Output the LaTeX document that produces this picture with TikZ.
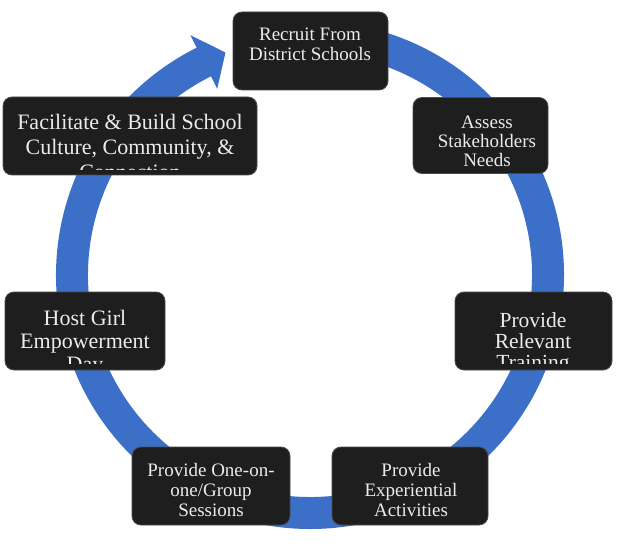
\documentclass[tikz,border=0pt]{standalone}
\usepackage{fontspec}
\setmainfont{Liberation Serif}
\usetikzlibrary{calc}
\definecolor{ringblue}{RGB}{60,112,200}
\definecolor{boxfill}{RGB}{30,30,30}
\definecolor{boxline}{RGB}{75,75,75}
\definecolor{txtcol}{RGB}{235,235,235}
\begin{document}
\begin{tikzpicture}[x=1pt,y=1pt,
  stepbox/.style={draw=boxline, line width=0.8pt, fill=boxfill, rounded corners=9pt, inner sep=0pt},
  steptext/.style={text=txtcol, align=center, inner sep=0pt},
  ringfill/.style={fill=ringblue}]
\useasboundingbox (0,0) rectangle (621,550);
\coordinate (c) at (310,275);
% ring with arrow head
\fill[ringfill] ($(c)+(85:254)$) arc[start angle=85, end angle=-243.5, radius=254pt]
  -- ($(c)+(-243.5:268)$) -- ($(c)+(-249.2:238)$) -- ($(c)+(-243.5:208)$)
  -- ($(c)+(-243.5:222)$) arc[start angle=-243.5, end angle=85, radius=222pt] -- cycle;
% boxes
\node[stepbox, minimum width=155pt, minimum height=78pt] (recruit) at (310.5,499) {};
\node[stepbox, minimum width=254pt, minimum height=78pt] (facil) at (130,414) {};
\node[stepbox, minimum width=135pt, minimum height=76pt] (assess) at (480.5,414.5) {};
\node[stepbox, minimum width=157pt, minimum height=78pt] (relev) at (533.5,219) {};
\node[stepbox, minimum width=160pt, minimum height=78pt] (host) at (85,219) {};
\node[stepbox, minimum width=158pt, minimum height=78pt] (oneon) at (211,64) {};
\node[stepbox, minimum width=156pt, minimum height=78pt] (exper) at (410,64) {};
% texts (clipped inside boxes)
\begin{scope}
\clip ([yshift=6pt]recruit.south west) rectangle (recruit.north east);
\node[steptext, font=\fontsize{19}{20}\selectfont] (recruitT) at (310,506) {Recruit From\\District Schools};
\end{scope}
\begin{scope}
\clip ([yshift=6pt]facil.south west) rectangle (facil.north east);
\node[steptext, font=\fontsize{22}{25}\selectfont] (facilT) at (130,403) {Facilitate \& Build School\\Culture, Community, \&\\Connection};
\end{scope}
\begin{scope}
\clip ([yshift=6pt]assess.south west) rectangle (assess.north east);
\node[steptext, font=\fontsize{19}{19}\selectfont] (assessT) at (487,409) {Assess\\Stakeholders\\Needs};
\end{scope}
\begin{scope}
\clip ([yshift=7pt]relev.south west) rectangle (relev.north east);
\node[steptext, font=\fontsize{21.5}{21}\selectfont] (relevT) at (533,207) {Provide\\Relevant\\Training};
\end{scope}
\begin{scope}
\clip ([yshift=7pt]host.south west) rectangle (host.north east);
\node[steptext, font=\fontsize{22}{23}\selectfont] (hostT) at (85,207) {Host Girl\\Empowerment\\Day};
\end{scope}
\begin{scope}
\clip ([yshift=6pt]oneon.south west) rectangle (oneon.north east);
\node[steptext, font=\fontsize{19}{20}\selectfont] (oneonT) at (211,60) {Provide One-on-\\one/Group\\Sessions};
\end{scope}
\begin{scope}
\clip ([yshift=6pt]exper.south west) rectangle (exper.north east);
\node[steptext, font=\fontsize{19}{20}\selectfont] (experT) at (411,60) {Provide\\Experiential\\Activities};
\end{scope}
\end{tikzpicture}
\end{document}
